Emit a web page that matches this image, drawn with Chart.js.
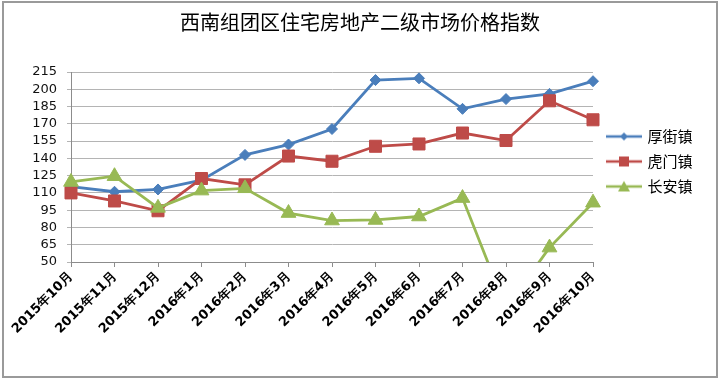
<!DOCTYPE html>
<html><head><meta charset="utf-8">
<script src="https://cdn.jsdelivr.net/npm/chart.js@4.4.0/dist/chart.umd.min.js"></script>
<style>html,body{margin:0;padding:0;background:#fff;} #wrap{width:720px;height:380px;position:relative;}</style>
</head><body><div id="wrap"><canvas id="c" width="720" height="380"></canvas></div>
<script>
const categories = ['2015年10月','2015年11月','2015年12月','2016年1月','2016年2月','2016年3月','2016年4月','2016年5月','2016年6月','2016年7月','2016年8月','2016年9月','2016年10月'];
const seriesNames = ['厚街镇','虎门镇','长安镇'];
const houjie = [115.5, 111, 113, 121, 143, 152, 165.5, 208, 209.5, 183, 191.5, 196, 207];
const humen = [110, 103, 94.5, 122.5, 117, 142, 137.5, 150.5, 152.5, 162, 155.5, 190, 173.5];
const changan = [119.5, 124.5, 97, 112, 114, 92.5, 86, 86.5, 89.5, 105.5, 10, 62.5, 101.5];
const yTicks = [50, 65, 80, 95, 110, 125, 140, 155, 170, 185, 200, 215];
const titleText = '西南组团区住宅房地产二级市场价格指数';

const colors = ['#4A7EBB', '#BE4B48', '#98B954'];
const styles = ['rectRot', 'rect', 'triangle'];

function legendIcon(color, style) {
  const c = document.createElement('canvas');
  c.width = 36; c.height = 14;
  const g = c.getContext('2d');
  g.strokeStyle = color; g.lineWidth = 2.5;
  g.beginPath(); g.moveTo(0, 7); g.lineTo(36, 7); g.stroke();
  g.fillStyle = color;
  g.beginPath();
  if (style === 'rectRot') { g.moveTo(18, 3); g.lineTo(22, 7); g.lineTo(18, 11); g.lineTo(14, 7); }
  else if (style === 'rect') { g.rect(13, 2, 10, 10); }
  else { g.moveTo(18, 1.5); g.lineTo(24, 12); g.lineTo(12, 12); }
  g.closePath(); g.fill();
  return c;
}
const icons = colors.map((c, i) => legendIcon(c, styles[i]));

const frame = {
  id: 'frame',
  beforeUpdate(chart) {
    const lg = chart.legend;
    if (lg && !lg._patched) {
      const orig = lg.fit.bind(lg);
      lg.fit = function () { orig(); this.width = 127; };
      lg._patched = true;
    }
  },
  afterLayout(chart) {
    const lg = chart.legend;
    if (lg) { lg.left += 5; lg.right += 5; }
  },
  beforeDraw(chart) {
    const g = chart.ctx; g.save(); g.fillStyle = '#fff'; g.fillRect(0, 0, chart.width, chart.height); g.restore();
  },
  afterDraw(chart) {
    const g = chart.ctx; g.save(); g.strokeStyle = '#9a9a9a'; g.lineWidth = 2;
    g.strokeRect(3, 2, 714, 375); g.restore();
  }
};

const dataArrays = [houjie, humen, changan];
const pointRadii = [5.5, 8.5, 8.5];

new Chart(document.getElementById('c'), {
  type: 'line',
  data: {
    labels: categories,
    datasets: dataArrays.map((d, i) => ({
      label: seriesNames[i],
      data: d,
      borderColor: colors[i],
      backgroundColor: colors[i],
      borderWidth: 2.8,
      pointStyle: styles[i],
      pointRadius: pointRadii[i],
      pointHoverRadius: pointRadii[i],
      pointBorderWidth: 1,
      pointBorderColor: colors[i],
      pointBackgroundColor: colors[i],
      tension: 0,
      order: 3 - i
    }))
  },
  options: {
    responsive: false,
    animation: false,
    events: [],
    layout: { padding: { left: 0, right: 0, top: 0, bottom: 0 } },
    plugins: {
      tooltip: { enabled: false },
      title: {
        display: true, text: titleText, color: '#000',
        font: { family: '"Noto Sans CJK SC"', size: 20, weight: 'normal' },
        padding: { top: 10, bottom: 38 }
      },
      legend: {
        display: true, position: 'right', align: 'start', fullSize: false,
        title: { display: true, text: ' ', font: { size: 10 }, padding: { top: 35, bottom: 0 } },
        labels: {
          usePointStyle: true, pointStyleWidth: 32, padding: 10, color: '#000',
          font: { family: '"Noto Sans CJK SC"', size: 15 },
          generateLabels: (chart) => seriesNames.map((n, i) => ({
            text: n, pointStyle: icons[i], fillStyle: colors[i], strokeStyle: colors[i],
            lineWidth: 0, hidden: false, datasetIndex: i, fontColor: '#000'
          }))
        }
      }
    },
    scales: {
      x: {
        type: 'category', offset: false,
        afterFit: (s) => { s.height = 118; },
        grid: { display: true, drawOnChartArea: false, drawTicks: true, tickLength: 5, color: '#8c8c8c' },
        border: { display: true, color: '#8c8c8c', width: 1 },
        ticks: {
          autoSkip: false, minRotation: 45, maxRotation: 45, padding: 2, color: '#000',
          font: { family: '"DejaVu Sans"', size: 13, weight: 'bold' }
        }
      },
      y: {
        min: 50, max: 215,
        afterFit: (s) => { s.width = 71; },
        afterBuildTicks: (s) => { s.ticks = yTicks.map(v => ({ value: v })); },
        grid: { color: '#b4b4b4', lineWidth: 1, tickLength: 4, drawTicks: true },
        border: { display: true, color: '#8c8c8c', width: 1 },
        ticks: {
          autoSkip: false, padding: 10, color: '#111',
          font: { family: '"DejaVu Sans"', size: 13 }
        }
      }
    }
  },
  plugins: [frame]
});
</script></body></html>
